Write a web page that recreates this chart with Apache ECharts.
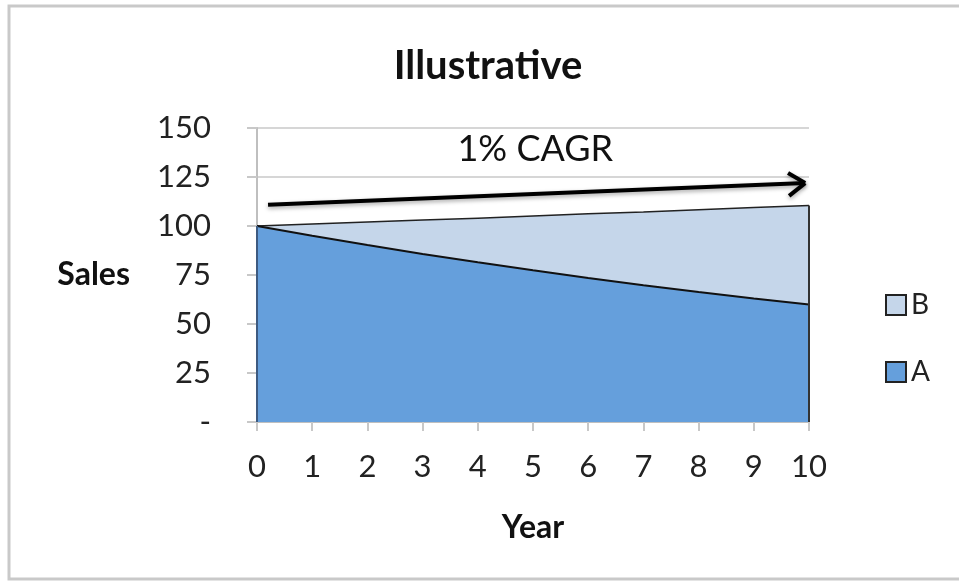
<!DOCTYPE html>
<html>
<head>
<meta charset="utf-8">
<script src="https://cdn.jsdelivr.net/npm/echarts@6/dist/echarts.min.js"></script>
<style>html,body{margin:0;padding:0;background:#fff;}#c{width:959px;height:582px;}</style>
</head>
<body>
<div id="c"></div>
<script>
const years = [0, 1, 2, 3, 4, 5, 6, 7, 8, 9, 10];
const seriesA = [100, 95, 90.3, 85.7, 81.5, 77.4, 73.5, 69.8, 66.3, 63, 59.9];
const seriesB = [0, 6, 11.7, 17.3, 22.5, 27.7, 32.7, 37.4, 42, 46.4, 50.6];
const yTicks = [0, 25, 50, 75, 100, 125, 150];
const arrowLine = [[0.2, 110.8], [9.93, 121.9]];
const arrowHeadUp = [[9.93, 121.9], [9.62, 127]];
const arrowHeadDown = [[9.93, 121.9], [9.64, 115.4]];
const cagrLabel = {text: '1% CAGR', x: 5.04, y: 139};

// stacked totals (A + B) — top edge of the B band
const totals = seriesA.map((a, i) => a + seriesB[i]);
const last = years.length - 1;

const FONT = 'Lato, "Open Sans", sans-serif';
const chart = echarts.init(document.getElementById('c'));
const seg = (pts) => [{coord: pts[0]}, {coord: pts[1]}];
chart.setOption({
  animation: false,
  backgroundColor: '#fff',
  title: {
    text: 'Illustrative', left: 488, textAlign: 'center', top: 46, padding: 0,
    textStyle: {fontFamily: FONT, fontWeight: 'bold', fontSize: 40, color: '#111'}
  },
  graphic: [{
    type: 'rect', shape: {x: 9, y: 6, width: 980, height: 573},
    style: {fill: 'none', stroke: '#c9c9c9', lineWidth: 3}, silent: true
  }],
  legend: {
    orient: 'vertical', left: 880, top: 286, itemGap: 39,
    itemWidth: 20, itemHeight: 20, data: ['B', 'A'],
    textStyle: {fontFamily: FONT, fontSize: 28, lineHeight: 20, color: '#222', padding: [2, 0, 0, 0]},
    icon: 'rect'
  },
  grid: {left: 257, right: 150, top: 128, bottom: 160},
  xAxis: {
    type: 'value', min: 0, max: 10, interval: 1,
    name: 'Year', nameLocation: 'middle', nameGap: 90,
    nameTextStyle: {fontFamily: FONT, fontWeight: 'bold', fontSize: 32, color: '#111'},
    axisLine: {lineStyle: {color: '#bfbfbf', width: 2}},
    axisTick: {length: 9, lineStyle: {color: '#c8c8c8', width: 2}},
    axisLabel: {fontFamily: FONT, fontSize: 31, color: '#222', margin: 29},
    splitLine: {show: false}
  },
  yAxis: {
    type: 'value', min: yTicks[0], max: yTicks[yTicks.length - 1], interval: 25,
    name: 'Sales', nameLocation: 'middle', nameRotate: 0, nameGap: 127,
    nameTextStyle: {fontFamily: FONT, fontWeight: 'bold', fontSize: 32, color: '#111'},
    axisLine: {show: true, lineStyle: {color: '#bfbfbf', width: 2}},
    axisTick: {show: true, length: 10, lineStyle: {color: '#c8c8c8', width: 2}},
    axisLabel: {fontFamily: FONT, fontSize: 31, color: '#222', margin: 46,
      formatter: v => v === 0 ? '-' : String(v)},
    splitLine: {lineStyle: {color: '#d6d6d6', width: 2}}
  },
  series: [
    {
      name: 'B', type: 'line', symbol: 'none',
      data: years.map((y, i) => [y, totals[i]]),
      lineStyle: {color: '#222', width: 1.5},
      itemStyle: {color: '#C5D6EA', borderColor: '#222', borderWidth: 1.5},
      areaStyle: {color: '#C5D6EA', opacity: 1}, z: 2,
      markLine: {
        silent: true, symbol: 'none', animation: false,
        lineStyle: {color: '#333', width: 2, type: 'solid'},
        label: {show: false},
        data: [
          [{coord: [years[last], 0]}, {coord: [years[last], totals[last]]}]
        ]
      }
    },
    {
      name: 'A', type: 'line', symbol: 'none',
      data: years.map((y, i) => [y, seriesA[i]]),
      lineStyle: {color: '#111', width: 2},
      itemStyle: {color: '#659FDC', borderColor: '#222', borderWidth: 1.5},
      areaStyle: {color: '#659FDC', opacity: 1}, z: 3,
      markLine: {
        silent: true, symbol: 'none', animation: false,
        lineStyle: {color: '#000', width: 4, type: 'solid', shadowColor: 'rgba(0,0,0,0.35)', shadowBlur: 4, shadowOffsetY: 2},
        label: {show: false},
        data: [
          seg(arrowLine), seg(arrowHeadUp), seg(arrowHeadDown),
          [{coord: [years[0], 0], lineStyle: {color: '#3d5a80', width: 2, shadowBlur: 0, shadowOffsetY: 0}},
           {coord: [years[0], seriesA[0]]}],
          [{coord: [years[last], 0], lineStyle: {color: '#333', width: 2, shadowBlur: 0, shadowOffsetY: 0}},
           {coord: [years[last], seriesA[last]]}]
        ]
      },
      markPoint: {
        silent: true, symbol: 'circle', symbolSize: 0,
        label: {show: true, formatter: cagrLabel.text, fontFamily: FONT, fontSize: 36, color: '#111'},
        data: [{coord: [cagrLabel.x, cagrLabel.y]}]
      }
    }
  ]
});
</script>
</body>
</html>
